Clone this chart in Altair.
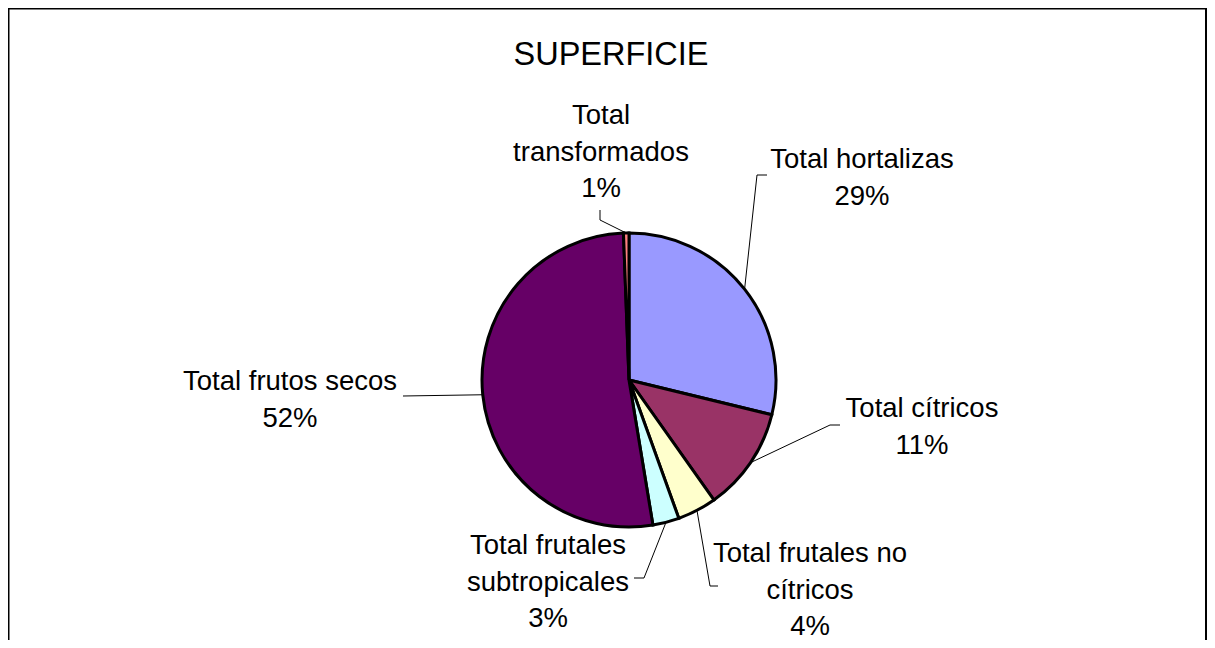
import altair as alt
import pandas as pd

# ---- data ----
categories = ["Total hortalizas", "Total cítricos", "Total frutales no cítricos",
              "Total frutales subtropicales", "Total frutos secos", "Total transformados"]
values = [28.8, 11.4, 4.3, 2.9, 52.0, 0.6]
label_names = ["Total hortalizas", "Total cítricos", "Total frutales no\ncítricos",
               "Total frutales\nsubtropicales", "Total frutos secos", "Total\ntransformados"]
colors = ["#9999FF", "#993366", "#FFFFCC", "#CCFFFF", "#660066", "#FF8080"]
title_text = ["SUPERFICIE"]

# ---- layout (page pixels) ----
W, H = 1199, 632
OX, OY = 8, 8
CX, CY, R = 629, 380, 147
label_x = [862, 922, 810, 548, 290, 601]
label_y = [168, 417, 562, 554, 390, 124]
elbow_x = [757, 830, 710, 644, 403, 600]
elbow_y = [175, 425, 586, 578, 396, 220]
end_x = [767, 840, 718, 634, 403, 600]
end_y = [175, 425, 586, 578, 396, 210]
FONT = "Liberation Sans"

df = pd.DataFrame({
    "category": categories, "value": values, "idx": list(range(len(values))),
    "name": label_names, "lx": label_x, "ly": label_y,
    "bx": elbow_x, "by": elbow_y, "tx": end_x, "ty": end_y,
})

xs = alt.Scale(domain=[OX, OX + W], range=[0, W], nice=False, zero=False)
ys = alt.Scale(domain=[OY, OY + H], range=[0, H], nice=False, zero=False)

base = alt.Chart(df)

pie = base.mark_arc(radius=R, stroke="black", strokeWidth=3,
                    x=CX - OX, y=CY - OY).encode(
    theta=alt.Theta("value:Q", stack=True),
    color=alt.Color("category:N", scale=alt.Scale(domain=categories, range=colors), legend=None),
    order=alt.Order("idx:Q"),
)

geo = base.transform_joinaggregate(total="sum(value)").transform_window(
    cum="sum(value)", sort=[alt.SortField("idx")], frame=[None, 0]
).transform_calculate(
    mid="2*PI*(datum.cum - datum.value/2)/datum.total",
    ex=f"{CX} + {R}*sin(datum.mid)",
    ey=f"{CY} - {R}*cos(datum.mid)",
    txt="datum.name + '\\n' + format(datum.value/datum.total, '.0%')",
)

seg1 = geo.mark_rule(color="black", strokeWidth=1).encode(
    x=alt.X("ex:Q", scale=xs, axis=None), y=alt.Y("ey:Q", scale=ys, axis=None),
    x2="bx:Q", y2="by:Q",
)
seg2 = base.mark_rule(color="black", strokeWidth=1).encode(
    x=alt.X("bx:Q", scale=xs, axis=None), y=alt.Y("by:Q", scale=ys, axis=None),
    x2="tx:Q", y2="ty:Q",
)

labels = geo.mark_text(font=FONT, fontSize=27.5, lineBreak="\n", lineHeight=36.5,
                       align="center", baseline="alphabetic", color="black").encode(
    x=alt.X("lx:Q", scale=xs, axis=None), y=alt.Y("ly:Q", scale=ys, axis=None),
    text="txt:N",
)

title = alt.Chart(pd.DataFrame({"t": title_text, "x": [611], "y": [65]})).mark_text(
    font=FONT, fontSize=32.5, align="center", baseline="alphabetic", color="black"
).encode(
    x=alt.X("x:Q", scale=xs, axis=None), y=alt.Y("y:Q", scale=ys, axis=None), text="t:N"
)

one = alt.Chart(pd.DataFrame({"a": [0]}))
frame_l = one.mark_rule(color="black", strokeWidth=2).encode(
    x=alt.value(0.5), y=alt.value(0), y2=alt.value(H + 10))
frame_r = one.mark_rule(color="black", strokeWidth=2).encode(
    x=alt.value(W - 1), y=alt.value(0), y2=alt.value(H + 10))
frame_t = one.mark_rule(color="black", strokeWidth=2).encode(
    x=alt.value(0), x2=alt.value(W), y=alt.value(0.5))

chart = alt.layer(pie, seg1, seg2, labels, title, frame_l, frame_r, frame_t).properties(
    width=W, height=H, autosize=alt.AutoSizeParams(type="none"), padding=0,
).configure_view(stroke=None)

chart.save("out.html", embed_options={"renderer": "svg", "actions": False})
